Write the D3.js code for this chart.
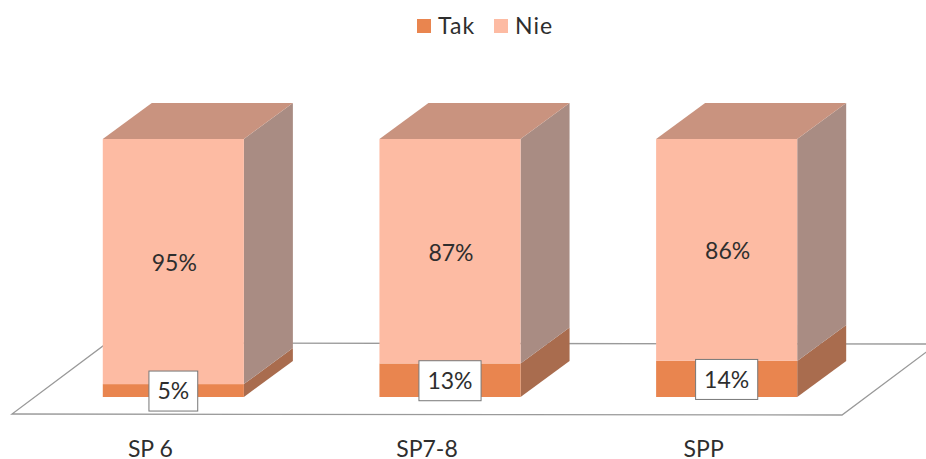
<!DOCTYPE html>
<html lang="pl">
<head>
  <meta charset="UTF-8">
  <title>Tak / Nie</title>
  <script src="https://d3js.org/d3.v7.min.js"></script>
  <style>
    html, body { margin: 0; background: #fff; }
    svg { display: block; }
    text { font-family: Lato, "Open Sans", sans-serif; fill: #2e2e2e; }
  </style>
</head>
<body>
<svg id="chart" width="926" height="459"></svg>
<script>
// Data
const categories = ["SP 6", "SP7-8", "SPP"];
const tak = [5, 13, 14];
const nie = [95, 87, 86];
const legendLabels = ["Tak", "Nie"];

const colors = {
  Tak: {front: "#e9854f", side: "#a96c4e"},
  Nie: {front: "#fdbba3", side: "#a98c83", top: "#c9937f"}
};

const svg = d3.select("#chart");

// Scales
const x = d3.scaleBand()
  .domain(categories)
  .range([35, 865])
  .paddingInner(0.49)
  .paddingOuter(0.245);

const y = d3.scaleLinear().domain([0, 100]).range([397, 139]);

// 3D depth of the bars
const dx = 49, dy = -36;

const poly = pts => d3.line()(pts) + "Z";

// Floor, its far right corner runs off the page
svg.append("path")
  .attr("d", poly([[12, 414], [842, 415], [937, 344], [107, 343]]))
  .attr("fill", "#fff")
  .attr("stroke", "#9a9a9a")
  .attr("stroke-width", 1.3);

// Bars
const stacks = categories.map((c, i) => ({cat: c, tak: tak[i], nie: nie[i]}));

const bars = svg.selectAll("g.bar").data(stacks).join("g").attr("class", "bar");

bars.each(function(d) {
  const g = d3.select(this);
  const x0 = x(d.cat), x1 = x0 + x.bandwidth();

  [["Tak", 0, d.tak], ["Nie", d.tak, d.tak + d.nie]].forEach(([key, a, b]) => {
    const c = colors[key];
    g.append("path")
      .attr("fill", c.side)
      .attr("d", poly([[x1, y(a)], [x1 + dx, y(a) + dy], [x1 + dx, y(b) + dy], [x1, y(b)]]));
    g.append("rect")
      .attr("x", x0).attr("y", y(b))
      .attr("width", x1 - x0).attr("height", y(a) - y(b))
      .attr("fill", c.front);
  });

  g.append("path")
    .attr("fill", colors.Nie.top)
    .attr("d", poly([[x0, y(100)], [x0 + dx, y(100) + dy], [x1 + dx, y(100) + dy], [x1, y(100)]]));

  // Nie label
  const cx = x0 + x.bandwidth() / 2;
  g.append("text")
    .attr("x", cx + 1).attr("y", y(d.tak + d.nie / 2) + 1.5)
    .attr("dy", "0.35em")
    .attr("text-anchor", "middle")
    .attr("font-size", 23)
    .text(d.nie + "%");

  // Tak label in a white box
  const label = g.append("g")
    .attr("transform", `translate(${cx},${y(d.tak / 2) + 0.5})`);
  const t = label.append("text")
    .attr("dy", "0.35em")
    .attr("text-anchor", "middle")
    .attr("font-size", 23)
    .text(d.tak + "%");
  const w = t.node().getComputedTextLength() + 17;
  label.insert("rect", "text")
    .attr("x", -w / 2).attr("y", -20)
    .attr("width", w).attr("height", 40)
    .attr("fill", "#fff")
    .attr("stroke", "#777")
    .attr("stroke-width", 1);
});

// Category labels, shifted left of the bars like the floor perspective
svg.selectAll("text.cat").data(categories).join("text")
  .attr("class", "cat")
  .attr("x", d => x(d) + x.bandwidth() / 2 - 23)
  .attr("y", 449)
  .attr("dy", "0.35em")
  .attr("text-anchor", "middle")
  .attr("font-size", 23)
  .text(d => d);

// Legend
const legendX = d3.scaleOrdinal().domain(legendLabels).range([417, 494]);
const legend = svg.selectAll("g.legend").data(legendLabels).join("g")
  .attr("class", "legend")
  .attr("transform", d => `translate(${legendX(d)},19)`);

legend.append("rect")
  .attr("width", 14).attr("height", 14)
  .attr("fill", d => colors[d].front);

legend.append("text")
  .attr("x", 21).attr("y", 7)
  .attr("dy", "0.35em")
  .attr("font-size", 23)
  .attr("letter-spacing", 1)
  .text(d => d);
</script>
</body>
</html>
